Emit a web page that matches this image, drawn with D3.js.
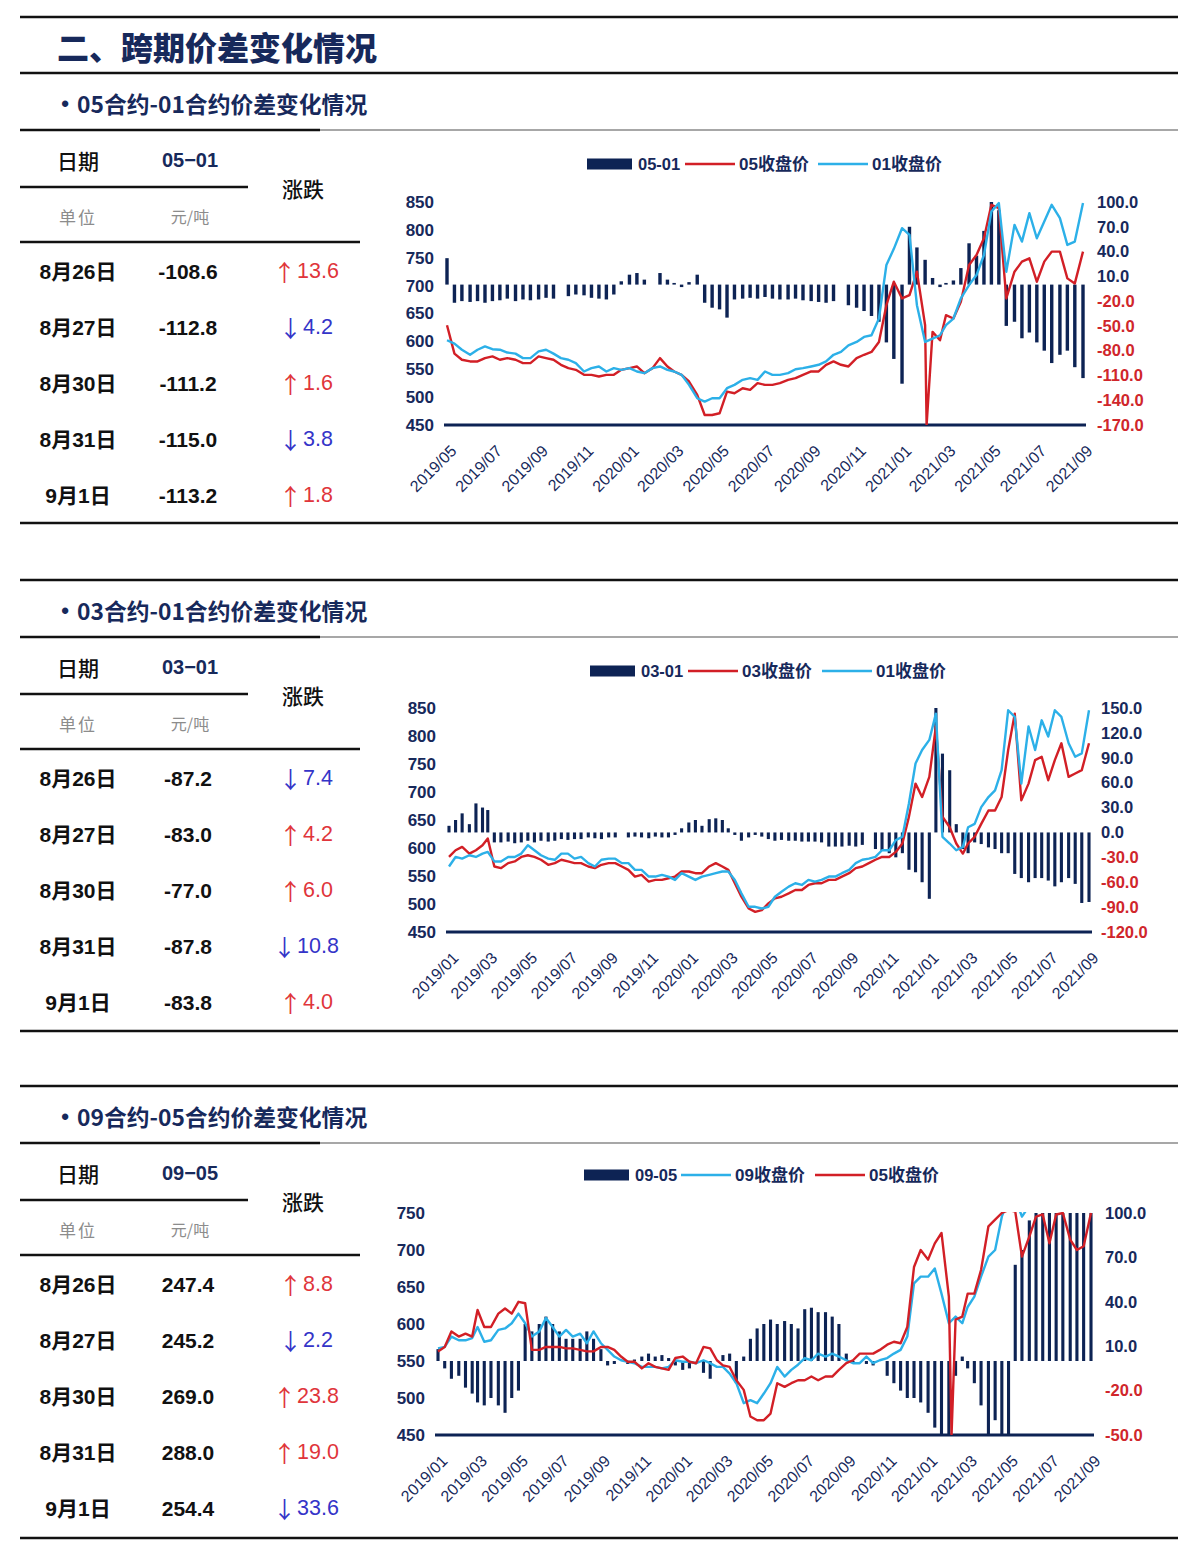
<!DOCTYPE html>
<html><head><meta charset="utf-8">
<script src="https://cdn.jsdelivr.net/npm/d3@7/dist/d3.min.js"></script>
<style>body{margin:0;background:#fff}svg{display:block}</style>
</head><body>
<svg id="c" width="1200" height="1552"></svg>
<script>
// ---------------- DATA ----------------
// Table data
const tableDates = ["8月26日","8月27日","8月30日","8月31日","9月1日"];
const t1Vals = ["-108.6","-112.8","-111.2","-115.0","-113.2"];
const t1Chg  = [13.6,-4.2,1.6,-3.8,1.8];
const t2Vals = ["-87.2","-83.0","-77.0","-87.8","-83.8"];
const t2Chg  = [-7.4,4.2,6.0,-10.8,4.0];
const t3Vals = ["247.4","245.2","269.0","288.0","254.4"];
const t3Chg  = [8.8,-2.2,23.8,19.0,-33.6];

// Chart 1: 05-01 (dates: 1st/11th/21st of each month, 2019/05 .. 2021/09/01)
const c1Spread = [32,-22,-20,-21,-20,-22,-20,-19,-17,-20,
  -18,-19,-18,-16,-17,0,-14,-12,-13,-16,
  -17,-18,-12,4,12,14,6,0,14,6,
  2,-3,3,12,-22,-28,-30,-40,-18,-17,
  -16,-17,-15,-17,-18,-18,-17,-19,-20,-21,
  -22,-20,0,-25,-28,-32,-38,-45,-70,-90,
  -120,70,45,30,8,-3,2,5,20,50,
  35,65,100,90,-50,-45,-65,-58,-70,-80,
  -95,-85,-80,-100,-113.2];
const c1P05 = [629,578,567,564,564,570,573,567,570,567,
  561,561,573,570,567,558,552,549,540,540,
  537,540,540,549,552,555,543,552,570,555,
  546,540,528,504,468,468,471,510,507,516,
  513,525,522,522,525,531,534,540,546,546,
  558,564,558,555,570,576,581,599,665,707,
  677,683,725,629,617,602,647,641,671,737,
  755,785,845,839,677,725,743,749,707,743,
  761,761,713,704,761];
const c1P01 = [602,596,585,576,585,591,586,585,580,578,
  570,570,582,585,578,570,567,561,546,552,
  555,546,552,549,552,546,543,552,555,549,
  546,540,522,498,492,498,498,516,522,531,
  534,531,546,540,540,543,550,552,555,558,
  564,576,581,593,599,608,611,641,737,766,
  803,791,665,599,605,611,629,641,677,701,
  719,755,833,848,725,809,779,830,785,815,
  845,821,773,779,848];
const c1Spike05 = [["2021-02-03",450]];
const c1XTicks = ["2019/05","2019/07","2019/09","2019/11","2020/01","2020/03","2020/05","2020/07","2020/09","2020/11","2021/01","2021/03","2021/05","2021/07","2021/09"];
const c1LeftTicks = [450,500,550,600,650,700,750,800,850];
const c1RightTicks = [-170,-140,-110,-80,-50,-20,10,40,70,100];

// Chart 2: 03-01 (2019/01 .. 2021/09/01)
const c2Spread = [8,15,23,10,35,30,27,-12,-12,-11,
  -13,-12,-10,-12,-10,-11,-10,-8,-9,-8,
  -8,-6,-7,-8,-6,-6,0,-6,-5,-6,
  -7,-5,-6,-6,-3,5,12,15,8,16,
  17,15,5,-3,-10,-6,-3,-5,-8,-10,
  -9,-10,-10,-11,-11,-11,-12,-17,-17,-17,
  -16,-17,-15,0,-20,-22,-25,-30,-25,-45,
  -48,-60,-80,150,95,75,10,-20,-25,-12,
  -14,-18,-20,-25,-25,-50,-55,-60,-55,-55,
  -58,-65,-60,-55,-62,-85,-83.8];
const c2P03 = [584,596,602,590,596,605,617,567,564,573,
  576,584,587,584,579,570,573,579,576,573,
  573,567,564,570,573,573,567,561,549,552,
  540,543,543,546,549,558,558,555,555,567,
  573,567,561,537,513,492,486,489,501,510,
  513,519,525,525,534,537,537,543,543,549,
  555,564,567,573,579,584,584,593,608,656,
  715,691,727,817,656,637,608,590,608,620,
  643,667,667,691,775,840,685,715,757,763,
  721,757,787,727,733,739,787];
const c2P01 = [567,584,581,587,584,590,593,576,576,584,
  584,590,605,596,587,581,579,590,590,581,
  584,573,567,579,581,581,573,573,561,561,
  549,549,552,549,543,555,549,543,549,552,
  555,558,558,543,519,495,495,492,495,513,
  522,531,537,534,543,540,543,549,549,555,
  561,573,579,581,584,596,596,614,620,680,
  751,775,793,840,620,608,596,602,637,643,
  673,691,703,739,846,834,715,817,775,828,
  799,846,834,787,763,769,846];
const c2XTicks = ["2019/01","2019/03","2019/05","2019/07","2019/09","2019/11","2020/01","2020/03","2020/05","2020/07","2020/09","2020/11","2021/01","2021/03","2021/05","2021/07","2021/09"];
const c2LeftTicks = [450,500,550,600,650,700,750,800,850];
const c2RightTicks = [-120,-90,-60,-30,0,30,60,90,120,150];

// Chart 3: 09-05 (2019/01 .. 2021/09/01)
const c3Spread = [8,-5,-12,-10,-18,-22,-28,-30,-25,-30,
  -35,-25,-20,25,20,25,30,25,20,15,
  15,15,20,15,8,-3,-2,0,-2,1,
  3,5,3,4,2,-3,-6,-5,0,-8,
  -12,0,4,5,-15,3,15,22,25,28,
  25,27,25,22,35,36,33,33,30,25,
  5,-1,0,-2,-3,0,-10,-15,-20,-25,
  -25,-28,-35,-45,-55,-55,-10,3,-5,-15,
  -30,-55,-40,-55,-55,65,75,95,150,180,
  200,220,230,240,250,270,254.4];
const c3P09 = [567,569,583,578,578,581,596,576,578,592,
  594,601,614,601,583,590,608,596,583,592,
  583,587,574,590,574,565,556,551,549,547,
  542,542,542,540,542,551,549,549,547,551,
  547,542,542,533,520,493,497,493,506,520,
  542,529,538,545,554,551,560,556,560,556,
  551,547,547,556,547,551,554,560,565,583,
  655,664,664,675,641,601,610,601,623,637,
  664,691,700,745,770,770,745,760,760,760,
  760,760,760,760,760,760,760];
const c3P05 = [563,569,590,583,587,583,619,596,596,614,
  621,614,630,628,565,565,569,569,569,567,
  567,565,563,563,569,569,565,556,549,549,
  540,547,542,540,538,554,556,549,547,569,
  567,551,544,542,524,511,475,470,470,479,
  520,515,520,524,524,529,524,529,529,538,
  547,551,560,560,560,565,572,576,574,596,
  677,700,687,709,723,637,606,610,641,641,
  673,732,741,750,754,752,691,718,745,748,
  709,748,750,714,700,705,750];
const c3Spike05 = [["2021-02-05",450]];
const c3XTicks = c2XTicks;
const c3LeftTicks = [450,500,550,600,650,700,750];
const c3RightTicks = [-50,-20,10,40,70,100];

// ---------------- STYLE ----------------
const NAVY="#17295b", BAR="#0d2354", RED="#d21f26", BLUE="#2cb0e8", RLAB="#d0262b";
const UP="#e0353b", DOWN="#3434c8";
const FONT="'Liberation Sans','Noto Sans CJK SC',sans-serif";
const CJK="'Noto Sans CJK SC','Liberation Sans',sans-serif";
const svg=d3.select("#c");
const pd=d3.timeParse("%Y-%m-%d"), pm=d3.timeParse("%Y/%m");

function grid(y0,m0,n){
  const out=[];
  for(let i=0;i<n;i++){const y=y0+Math.floor((m0-1+i)/12), m=(m0-1+i)%12; for(const d of [1,11,21]) out.push(new Date(y,m,d));}
  const y=y0+Math.floor((m0-1+n)/12), m=(m0-1+n)%12; out.push(new Date(y,m,1));
  return out;
}
function hline(x1,x2,y,w,c){svg.append("line").attr("x1",x1).attr("x2",x2).attr("y1",y).attr("y2",y).attr("stroke",c||"#111").attr("stroke-width",w||2);}
function txt(x,y,s,o){
  const t=svg.append("text").attr("x",x).attr("y",y).attr("dominant-baseline","central")
   .attr("text-anchor",o.anchor||"middle").attr("font-family",o.family||FONT).attr("font-size",o.size||20)
   .attr("font-weight",o.weight||400).attr("fill",o.fill||"#111").text(s);
  if(o.ls) t.attr("letter-spacing",o.ls);
  return t;
}

// ---------------- HEADER ----------------
hline(20,1178,17,2.5);
txt(57,46,"二、跨期价差变化情况",{anchor:"start",family:CJK,size:32,weight:900,fill:NAVY});

function section(off,subtitle,code,vals,chg){
  hline(20,1178,73+off,2.5);
  txt(65,103+off,"•",{family:FONT,size:22,weight:700,fill:NAVY});
  txt(77,103+off,subtitle,{anchor:"start",family:CJK,size:22.8,weight:700,fill:NAVY});
  hline(20,320,130+off,2.5); hline(320,1178,130+off,1.5,"#8a8a8a");
  txt(78,160+off,"日期",{family:CJK,size:21,weight:500});
  txt(190,160+off,code,{size:20,weight:700,fill:NAVY});
  hline(20,248,187+off,2.5);
  txt(303,188+off,"涨跌",{family:CJK,size:21,weight:500});
  txt(78,216+off,"单位",{family:CJK,size:17,fill:"#8c8c8c",ls:2});
  txt(190,216+off,"元/吨",{family:CJK,size:16,fill:"#8c8c8c"});
  hline(20,360,242+off,2.5);
  tableDates.forEach((d,i)=>{
    const y=271+off+i*56.1;
    txt(78,y,d,{size:21,weight:700});
    txt(188,y,vals[i],{size:21,weight:700});
    const c=chg[i];
    const t=txt(306,y,"",{size:21.5,fill:c>0?UP:DOWN});
    t.append("tspan").attr("font-family",CJK).attr("font-size",23).text(c>0?"↑":"↓");
    t.append("tspan").attr("dx",1).text(Math.abs(c).toFixed(1));
  });
  hline(20,1178,523+off*1.002,2.5);
}
section(0,"05合约-01合约价差变化情况","05−01",t1Vals,t1Chg);
section(507,"03合约-01合约价差变化情况","03−01",t2Vals,t2Chg);
section(1013,"09合约-05合约价差变化情况","09−05",t3Vals,t3Chg);

// ---------------- CHARTS ----------------
function drawChart(c){
  const x=d3.scaleTime().domain(c.xDomain.map(pd)).range(c.xRange);
  const yL=d3.scaleLinear().domain(c.yL).range([c.bottom,c.top]);
  const yR=d3.scaleLinear().domain(c.yR).range([c.bottom,c.top]).clamp(true);
  const cid="clip"+c.id;
  svg.append("clipPath").attr("id",cid).append("rect")
    .attr("x",c.xRange[0]-5).attr("y",c.top-1).attr("width",c.xRange[1]-c.xRange[0]+10).attr("height",c.bottom-c.top+1);
  const g=svg.append("g");
  g.append("g").selectAll("rect").data(c.dates.map((d,i)=>({d,v:c.bars[i]}))).join("rect")
    .attr("x",d=>x(d.d)-c.barW/2).attr("width",c.barW)
    .attr("y",d=>Math.min(yR(0),yR(d.v))).attr("height",d=>Math.abs(yR(0)-yR(d.v)))
    .attr("fill",BAR);
  g.append("line").attr("x1",c.xRange[0]-3).attr("x2",c.xRange[1]+3).attr("y1",c.bottom).attr("y2",c.bottom)
    .attr("stroke",BAR).attr("stroke-width",3);
  c.lines.forEach(L=>{
    const pts=c.dates.map((d,i)=>({d,v:L.vals[i]}));
    (L.spike||[]).forEach(s=>pts.push({d:pd(s[0]),v:s[1]}));
    pts.sort((a,b)=>a.d-b.d);
    g.append("path").datum(pts).attr("clip-path",`url(#${cid})`).attr("fill","none")
      .attr("stroke",L.color).attr("stroke-width",2.4).attr("stroke-linejoin","round")
      .attr("d",d3.line().x(p=>x(p.d)).y(p=>yL(p.v)));
  });
  // left axis
  const al=svg.append("g").attr("transform",`translate(${c.leftX},0)`)
    .call(d3.axisLeft(yL).tickValues(c.leftTicks).tickFormat(d=>String(d)).tickSize(0).tickPadding(0));
  al.select(".domain").remove();
  al.selectAll("text").attr("font-family",FONT).attr("font-size",17).attr("font-weight",700).attr("fill",NAVY);
  // right axis
  const ar=svg.append("g").attr("transform",`translate(${c.rightX},0)`)
    .call(d3.axisRight(yR).tickValues(c.rightTicks).tickFormat(d=>d.toFixed(1)).tickSize(0).tickPadding(0));
  ar.select(".domain").remove();
  ar.selectAll("text").attr("font-family",FONT).attr("font-size",16.5).attr("font-weight",700)
    .attr("fill",d=>d<0?RLAB:NAVY);
  // x axis
  const ax=svg.append("g").attr("transform",`translate(0,${c.bottom})`)
    .call(d3.axisBottom(x).tickValues(c.xTicks.map(pm)).tickFormat(d3.timeFormat("%Y/%m")).tickSize(0));
  ax.select(".domain").remove();
  ax.selectAll("text").attr("y",0).attr("dy",0).attr("text-anchor","end")
    .attr("transform","translate(10,27) rotate(-45)").attr("font-family",FONT).attr("font-size",16).attr("fill",NAVY);
  // legend
  c.legend.forEach(it=>{
    if(it.type==="bar"){
      svg.append("rect").attr("x",it.x).attr("y",c.legendY-5.5).attr("width",45).attr("height",11).attr("fill",BAR);
      txt(it.x+51,c.legendY,it.label,{anchor:"start",size:16.5,weight:700,fill:NAVY});
    } else {
      svg.append("line").attr("x1",it.x).attr("x2",it.x+50).attr("y1",c.legendY).attr("y2",c.legendY)
        .attr("stroke",it.color).attr("stroke-width",2.5);
      txt(it.x+54,c.legendY,it.label,{anchor:"start",size:17,weight:700,fill:NAVY});
    }
  });
}

drawChart({id:1,dates:grid(2019,5,28),bars:c1Spread,
  lines:[{vals:c1P05,color:RED,spike:c1Spike05},{vals:c1P01,color:BLUE}],
  xDomain:["2019-05-01","2021-09-01"],xRange:[447,1083],
  yL:[450,850],yR:[-170,100],top:202,bottom:425,barW:3.4,
  leftTicks:c1LeftTicks,rightTicks:c1RightTicks,xTicks:c1XTicks,leftX:434,rightX:1097,
  legendY:164,legend:[{type:"bar",x:587,label:"05-01"},{type:"line",x:685,color:RED,label:"05收盘价"},{type:"line",x:818,color:BLUE,label:"01收盘价"}]});

drawChart({id:2,dates:grid(2019,1,32),bars:c2Spread,
  lines:[{vals:c2P03,color:RED},{vals:c2P01,color:BLUE}],
  xDomain:["2019-01-01","2021-09-01"],xRange:[449,1089],
  yL:[450,850],yR:[-120,150],top:708,bottom:932,barW:3.1,
  leftTicks:c2LeftTicks,rightTicks:c2RightTicks,xTicks:c2XTicks,leftX:436,rightX:1101,
  legendY:671,legend:[{type:"bar",x:590,label:"03-01"},{type:"line",x:688,color:RED,label:"03收盘价"},{type:"line",x:822,color:BLUE,label:"01收盘价"}]});

drawChart({id:3,dates:grid(2019,1,32),bars:c3Spread,
  lines:[{vals:c3P09,color:BLUE},{vals:c3P05,color:RED,spike:c3Spike05}],
  xDomain:["2019-01-01","2021-09-01"],xRange:[438,1091],
  yL:[450,750],yR:[-50,100],top:1213,bottom:1435,barW:3.1,
  leftTicks:c3LeftTicks,rightTicks:c3RightTicks,xTicks:c3XTicks,leftX:425,rightX:1105,
  legendY:1175,legend:[{type:"bar",x:584,label:"09-05"},{type:"line",x:681,color:BLUE,label:"09收盘价"},{type:"line",x:815,color:RED,label:"05收盘价"}]});
</script>
</body></html>
